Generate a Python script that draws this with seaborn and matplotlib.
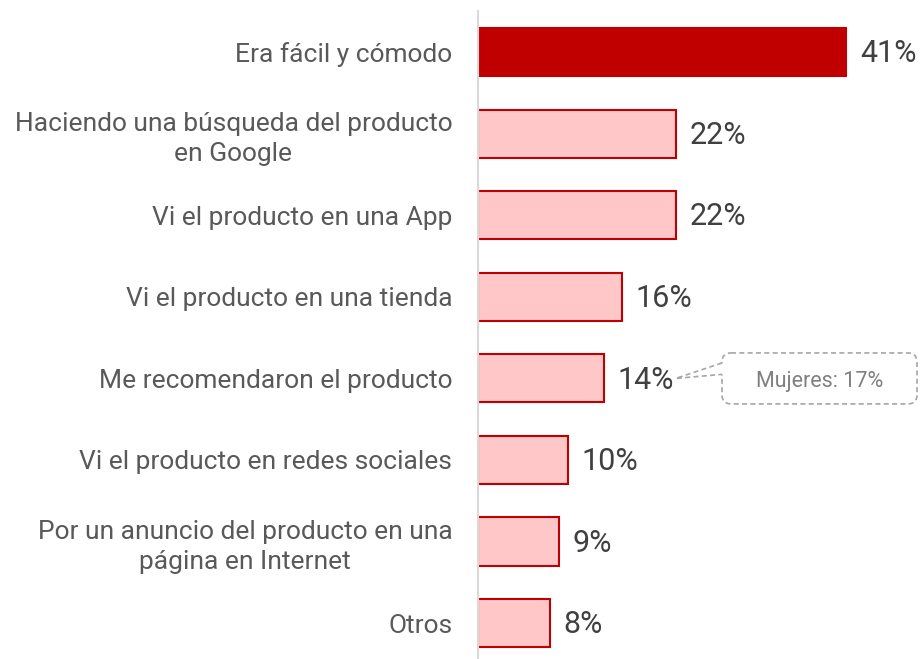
import numpy as np
import pandas as pd
import matplotlib.pyplot as plt
import seaborn as sns
from matplotlib.patches import FancyBboxPatch

# --- data
razones = [
    "Era fácil y cómodo",
    "Haciendo una búsqueda del producto\nen Google",
    "Vi el producto en una App",
    "Vi el producto en una tienda",
    "Me recomendaron el producto",
    "Vi el producto en redes sociales",
    "Por un anuncio del producto en una\npágina en Internet",
    "Otros",
]
valores = [41, 22, 22, 16, 14, 10, 9, 8]
nota_texto = "Mujeres: 17%"
nota_fila = 4

df = pd.DataFrame({"razon": razones, "valor": valores})

sns.set_theme(style="white")
plt.rcParams['font.family'] = ['Roboto', 'DejaVu Sans']

W, H = 921, 659
fig = plt.figure(figsize=(W / 100, H / 100), dpi=100)
ax = fig.add_axes([478 / W, 0, (W - 478) / W, 648 / H])

colores = ["#c00000"] + ["#ffc7c7"] * (len(valores) - 1)
sns.barplot(data=df, x="valor", y="razon", hue="razon", palette=colores,
            legend=False, width=0.59, ax=ax, saturation=1)
for p in ax.patches:
    p.set_edgecolor("#c00000")
    p.set_linewidth(1.5)

px_per_unit = 8.98
ax.set_xlim(0, (W - 478) / px_per_unit)
ax.set_ylim(7.44, -0.505)

for i, v in enumerate(valores):
    ax.text(v + 14 / px_per_unit, i + 0.02, f"{v}%", va="center", ha="left",
            fontsize=22, color="#404040")

ax.set_xlabel("")
ax.set_ylabel("")
ax.set_xticks([])
ax.tick_params(axis="y", length=0, pad=18.5, labelsize=19, labelcolor="#595959")
for lab in ax.get_yticklabels():
    lab.set_multialignment("center")
    lab.set_linespacing(1.3)

for s in ["top", "right", "bottom"]:
    ax.spines[s].set_visible(False)
ax.spines["left"].set_color("#d9d9d9")
ax.spines["left"].set_linewidth(1.5)

# --- callout "Mujeres: 17%"
y_unit_px = 81.6
asp = px_per_unit / y_unit_px
x0 = (722 - 478) / px_per_unit
x1 = (917 - 478) / px_per_unit
hh = 25.5 / y_unit_px
box = FancyBboxPatch((x0, nota_fila - hh), x1 - x0, 2 * hh,
                     boxstyle="round,pad=0,rounding_size=1.0",
                     mutation_aspect=asp, fill=False, edgecolor="#a6a6a6",
                     linestyle=(0, (3, 2)), linewidth=1.2, clip_on=False)
ax.add_patch(box)
# gap in the box edge where the pointer joins
ax.plot([x0, x0], [nota_fila - 0.19, nota_fila - 0.05], color="white",
        linewidth=2.5, clip_on=False, solid_capstyle="butt")
tip = valores[nota_fila] + 72 / px_per_unit
ax.plot([x0, tip, x0], [nota_fila - 0.19, nota_fila, nota_fila - 0.05],
        color="#a6a6a6", linestyle=(0, (3, 2)), linewidth=1.2, clip_on=False)
ax.text((x0 + x1) / 2, nota_fila + 0.04, nota_texto, ha="center", va="center",
        fontsize=15.5, color="#808080")

fig.savefig("out.png", dpi=100)
